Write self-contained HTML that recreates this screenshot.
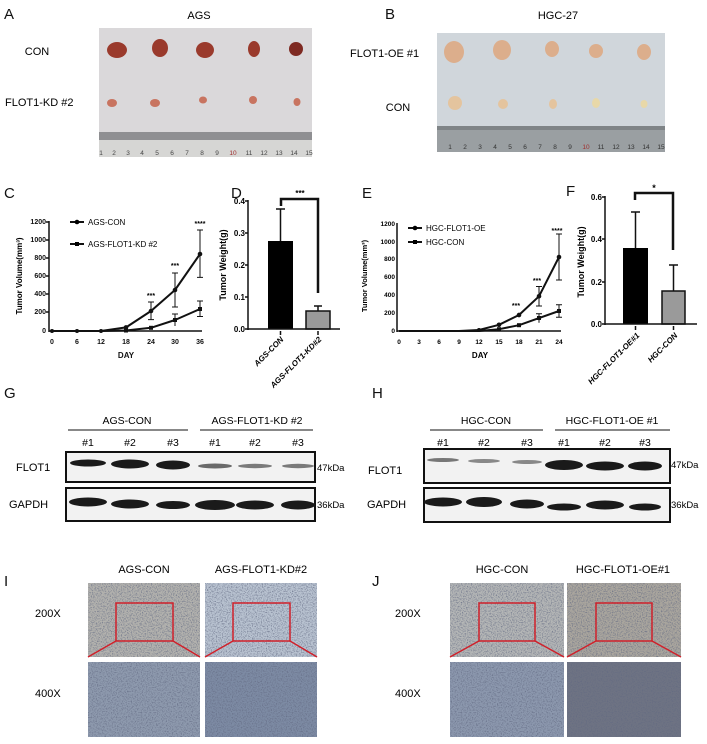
<!DOCTYPE html>
<html><head><meta charset="utf-8"><style>
html,body{margin:0;padding:0;background:#fff;}
svg{display:block;font-family:"Liberation Sans",Arial,sans-serif;}
</style></head><body>
<svg width="707" height="744" viewBox="0 0 707 744" xmlns="http://www.w3.org/2000/svg">
<defs>
<filter id="grain" x="0" y="0" width="100%" height="100%">
<feTurbulence type="fractalNoise" baseFrequency="0.8" numOctaves="2" seed="3" result="t"/>
<feColorMatrix in="t" type="matrix" values="0 0 0 0 0.12  0 0 0 0 0.14  0 0 0 0 0.22  0 0 0 -2.2 1.2" result="c"/>
<feComposite in="c" in2="SourceGraphic" operator="in"/>
</filter>
</defs>
<!-- Panel labels -->
<g font-size="15" fill="#111">
<text x="4" y="19">A</text><text x="385" y="19">B</text>
<text x="4" y="198">C</text><text x="231" y="198">D</text>
<text x="362" y="198">E</text><text x="566" y="196">F</text>
<text x="4" y="398">G</text><text x="372" y="398">H</text>
<text x="4" y="586">I</text><text x="372" y="586">J</text>
</g>
<!-- A photo -->
<text x="199" y="19" font-size="11" text-anchor="middle">AGS</text>
<text x="37" y="55" font-size="11" text-anchor="middle">CON</text>
<text x="5" y="106" font-size="11">FLOT1-KD #2</text>
<rect x="99" y="28" width="213" height="104" fill="#dad8da"/>
<rect x="99" y="132" width="213" height="8" fill="#8f8f92"/>
<rect x="99" y="140" width="213" height="17" fill="#d6d6d4"/>
<g font-size="6.5" fill="#444" text-anchor="middle">
<text x="101" y="155">1</text><text x="114" y="155">2</text><text x="128" y="155">3</text><text x="142" y="155">4</text><text x="157" y="155">5</text><text x="172" y="155">6</text><text x="187" y="155">7</text><text x="202" y="155">8</text><text x="217" y="155">9</text><text x="233" y="155" fill="#a03030">10</text><text x="249" y="155">11</text><text x="264" y="155">12</text><text x="279" y="155">13</text><text x="294" y="155">14</text><text x="309" y="155">15</text>
</g>
<g fill="#9a3a2c">
<ellipse cx="117" cy="50" rx="10" ry="8"/><ellipse cx="160" cy="48" rx="8" ry="9"/><ellipse cx="205" cy="50" rx="9" ry="8"/><ellipse cx="254" cy="49" rx="6" ry="8"/><ellipse cx="296" cy="49" rx="7" ry="7" fill="#7e2a22"/>
</g>
<g fill="#c87460">
<ellipse cx="112" cy="103" rx="5" ry="4"/><ellipse cx="155" cy="103" rx="5" ry="4"/><ellipse cx="203" cy="100" rx="4" ry="3.5"/><ellipse cx="253" cy="100" rx="4" ry="4"/><ellipse cx="297" cy="102" rx="3.5" ry="4"/>
</g>
<!-- B photo -->
<text x="558" y="19" font-size="11" text-anchor="middle">HGC-27</text>
<text x="350" y="57" font-size="11">FLOT1-OE #1</text>
<text x="398" y="111" font-size="11" text-anchor="middle">CON</text>
<rect x="437" y="33" width="228" height="93" fill="#d0d6db"/>
<rect x="437" y="126" width="228" height="26" fill="#9a9fa2"/>
<rect x="437" y="126" width="228" height="4" fill="#7f8487"/>
<g font-size="6.5" fill="#333" text-anchor="middle">
<text x="450" y="149">1</text><text x="465" y="149">2</text><text x="480" y="149">3</text><text x="495" y="149">4</text><text x="510" y="149">5</text><text x="525" y="149">6</text><text x="540" y="149">7</text><text x="555" y="149">8</text><text x="570" y="149">9</text><text x="586" y="149" fill="#a03030">10</text><text x="601" y="149">11</text><text x="616" y="149">12</text><text x="631" y="149">13</text><text x="646" y="149">14</text><text x="661" y="149">15</text>
</g>
<g fill="#dcae8c">
<ellipse cx="454" cy="52" rx="10" ry="11"/><ellipse cx="502" cy="50" rx="9" ry="10"/><ellipse cx="552" cy="49" rx="7" ry="8"/><ellipse cx="596" cy="51" rx="7" ry="7"/><ellipse cx="644" cy="52" rx="7" ry="8"/>
</g>
<g fill="#e4c49e">
<ellipse cx="455" cy="103" rx="7" ry="7"/><ellipse cx="503" cy="104" rx="5" ry="5"/><ellipse cx="553" cy="104" rx="4" ry="5"/><ellipse cx="596" cy="103" rx="4" ry="5" fill="#e8d8a8"/><ellipse cx="644" cy="104" rx="3.5" ry="4" fill="#e8d8a8"/>
</g>

<!-- C chart -->
<g font-size="7" font-weight="bold" text-anchor="end" fill="#111">
<text x="46" y="224">1200</text><text x="46" y="242">1000</text><text x="46" y="260">800</text><text x="46" y="278">600</text><text x="46" y="296">400</text><text x="46" y="314">200</text><text x="46" y="333">0</text>
</g>
<g stroke="#111" stroke-width="1.5" fill="none">
<line x1="49" y1="221" x2="49" y2="332"/><line x1="49" y1="331" x2="202" y2="331"/>
<path d="M46 222h3M46 240h3M46 258h3M46 276h3M46 294h3M46 312h3"/>
</g>
<g font-size="7" font-weight="bold" text-anchor="middle" fill="#111">
<text x="52" y="344">0</text><text x="77" y="344">6</text><text x="101" y="344">12</text><text x="126" y="344">18</text><text x="151" y="344">24</text><text x="175" y="344">30</text><text x="200" y="344">36</text>
<text x="126" y="358" font-size="8">DAY</text>
</g>
<text transform="translate(22,276) rotate(-90)" font-size="8" font-weight="bold" text-anchor="middle">Tumor Volume(mm³)</text>
<g stroke="#111" stroke-width="2" fill="none" stroke-linejoin="round">
<polyline points="52,331 77,331 101,331 126,327.4 151,311 175,290 200,254"/>
<polyline points="52,331 77,331 101,331 126,330.5 151,327.8 175,320 200,309"/>
</g>
<g stroke="#111" stroke-width="1" fill="none">
<path d="M151 302v17.6M148 302h6M148 319.6h6M175 273v34M172 273h6M172 307h6M200 230v47.4M197 230h6M197 277.4h6M175 314v12M172 314h6M200 301v15.5M197 301h6M197 316.5h6"/>
</g>
<g fill="#111">
<circle cx="126" cy="327.4" r="2.3"/><circle cx="151" cy="311" r="2.3"/><circle cx="175" cy="290" r="2.3"/><circle cx="200" cy="254" r="2.3"/>
<rect x="124" y="328.5" width="4" height="4"/><rect x="149" y="325.8" width="4" height="4"/><rect x="173" y="318" width="4" height="4"/><rect x="198" y="307" width="4" height="4"/>
<circle cx="52" cy="331" r="2"/><circle cx="77" cy="331" r="2"/><circle cx="101" cy="331" r="2"/>
</g>
<g font-size="7" font-weight="bold" text-anchor="middle"><text x="151" y="298">***</text><text x="175" y="268">***</text><text x="200" y="226">****</text></g>
<line x1="70" y1="222" x2="84" y2="222" stroke="#111" stroke-width="2"/><circle cx="77" cy="222" r="2.3"/>
<line x1="70" y1="244" x2="84" y2="244" stroke="#111" stroke-width="2"/><rect x="75" y="242" width="4" height="4"/>
<text x="88" y="225" font-size="8">AGS-CON</text><text x="88" y="247" font-size="8">AGS-FLOT1-KD #2</text>

<!-- D chart -->
<g font-size="8" font-weight="bold" text-anchor="end">
<text x="245" y="204">0.4</text><text x="245" y="236">0.3</text><text x="245" y="268">0.2</text><text x="245" y="300">0.1</text><text x="245" y="332">0.0</text>
</g>
<text transform="translate(226,265) rotate(-90)" font-size="9" font-weight="bold" text-anchor="middle">Tumor Weight(g)</text>
<rect x="268" y="241" width="25" height="88" fill="#000"/>
<rect x="306" y="311" width="24" height="18" fill="#9a9a9a" stroke="#111" stroke-width="1.5"/>
<g stroke="#111" stroke-width="1.5" fill="none">
<line x1="248" y1="200" x2="248" y2="330"/><line x1="248" y1="329" x2="340" y2="329"/>
<path d="M245 201h3M245 233h3M245 265h3M245 297h3M245 329h3"/>
<path d="M280.5 241V209M276 209h9M318 311v-5M314 306h8M280.5 331v4M318 331v4"/>
<path d="M281 206V199H318V293" stroke-width="2.5"/>
</g>
<text x="300" y="196" font-size="8" font-weight="bold" text-anchor="middle">***</text>
<g font-size="8" font-weight="bold" font-style="italic" text-anchor="end">
<text transform="translate(284,340) rotate(-45)">AGS-CON</text>
<text transform="translate(322,340) rotate(-45)">AGS-FLOT1-KD#2</text>
</g>

<!-- E chart -->
<g font-size="6.5" font-weight="bold" text-anchor="end">
<text x="395" y="226">1200</text><text x="395" y="244">1000</text><text x="395" y="261">800</text><text x="395" y="279">600</text><text x="395" y="297">400</text><text x="395" y="315">200</text><text x="395" y="333">0</text>
</g>
<g stroke="#111" stroke-width="1.5" fill="none">
<line x1="397" y1="223" x2="397" y2="332"/><line x1="397" y1="331" x2="561" y2="331"/>
</g>
<g font-size="6.5" font-weight="bold" text-anchor="middle">
<text x="399" y="344">0</text><text x="419" y="344">3</text><text x="439" y="344">6</text><text x="459" y="344">9</text><text x="479" y="344">12</text><text x="499" y="344">15</text><text x="519" y="344">18</text><text x="539" y="344">21</text><text x="559" y="344">24</text>
<text x="480" y="358" font-size="8">DAY</text>
</g>
<text transform="translate(367,276) rotate(-90)" font-size="7.5" font-weight="bold" text-anchor="middle">Tumor Volume(mm³)</text>
<g stroke="#111" stroke-width="2" fill="none" stroke-linejoin="round">
<polyline points="399,331 459,331 479,330 499,324.8 519,315 539,296.3 559,257"/>
<polyline points="399,331 479,331 499,329.2 519,325.2 539,318.1 559,311"/>
</g>
<g stroke="#111" stroke-width="1" fill="none">
<path d="M519 312.8v4.4M539 286.5v19.6M536 286.5h6M536 306h6M559 234v46M556 234h6M556 280h6M539 313.7v9M536 313.7h6M559 304.8v12.4M556 304.8h6M556 317.2h6"/>
</g>
<g fill="#111">
<circle cx="499" cy="324.8" r="2.3"/><circle cx="519" cy="315" r="2.3"/><circle cx="539" cy="296.3" r="2.3"/><circle cx="559" cy="257" r="2.3"/><circle cx="479" cy="330" r="2"/>
<rect x="497" y="327.2" width="4" height="4"/><rect x="517" y="323.2" width="4" height="4"/><rect x="537" y="316" width="4" height="4"/><rect x="557" y="309" width="4" height="4"/>
</g>
<g font-size="7" font-weight="bold" text-anchor="middle"><text x="516" y="308">***</text><text x="537" y="283">***</text><text x="557" y="233">****</text></g>
<line x1="408" y1="228" x2="422" y2="228" stroke="#111" stroke-width="2"/><circle cx="415" cy="228" r="2.3"/>
<line x1="408" y1="242" x2="422" y2="242" stroke="#111" stroke-width="2"/><rect x="413" y="240" width="4" height="4"/>
<text x="426" y="231" font-size="8">HGC-FLOT1-OE</text><text x="426" y="245" font-size="8">HGC-CON</text>

<!-- F chart -->
<g font-size="8" font-weight="bold" text-anchor="end">
<text x="602" y="200">0.6</text><text x="602" y="242">0.4</text><text x="602" y="285">0.2</text><text x="602" y="327">0.0</text>
</g>
<text transform="translate(584,262) rotate(-90)" font-size="9" font-weight="bold" text-anchor="middle">Tumor Weight(g)</text>
<rect x="623" y="248" width="25" height="76" fill="#000"/>
<rect x="662" y="291" width="23" height="33" fill="#9a9a9a" stroke="#111" stroke-width="1.5"/>
<g stroke="#111" stroke-width="1.5" fill="none">
<line x1="605" y1="196" x2="605" y2="325"/><line x1="605" y1="324" x2="697" y2="324"/>
<path d="M602 197h3M602 239h3M602 282h3M602 324h3"/>
<path d="M635.5 248V212M631 212h9M673.5 291v-26M669 265h9M635.5 326v4M673.5 326v4"/>
<path d="M635 200V193H673V250" stroke-width="2.5"/>
</g>
<text x="654" y="191" font-size="9" font-weight="bold" text-anchor="middle">*</text>
<g font-size="8" font-weight="bold" font-style="italic" text-anchor="end">
<text transform="translate(640,336) rotate(-45)">HGC-FLOT1-OE#1</text>
<text transform="translate(678,336) rotate(-45)">HGC-CON</text>
</g>

<!-- G blot -->
<g font-size="10.5" text-anchor="middle">
<text x="127" y="424">AGS-CON</text><text x="257" y="424">AGS-FLOT1-KD #2</text>
<text x="88" y="446">#1</text><text x="130" y="446">#2</text><text x="173" y="446">#3</text><text x="215" y="446">#1</text><text x="255" y="446">#2</text><text x="298" y="446">#3</text>
</g>
<g stroke="#111" stroke-width="1"><line x1="68" y1="430" x2="188" y2="430"/><line x1="200" y1="430" x2="313" y2="430"/></g>
<text x="16" y="471" font-size="11">FLOT1</text><text x="9" y="508" font-size="11">GAPDH</text>
<text x="317" y="471" font-size="9.5">47kDa</text><text x="317" y="508" font-size="9.5">36kDa</text>
<rect x="66" y="452" width="249" height="30" fill="#f2f2f2" stroke="#111" stroke-width="2"/>
<rect x="66" y="488" width="249" height="33" fill="#f2f2f2" stroke="#111" stroke-width="2"/>
<g fill="#1a1a1a">
<ellipse cx="88" cy="463" rx="18" ry="3.5"/><ellipse cx="130" cy="464" rx="19" ry="4.5"/><ellipse cx="173" cy="465" rx="17" ry="4.5"/>
<ellipse cx="215" cy="466" rx="17" ry="2.5" fill="#6a6a6a"/><ellipse cx="255" cy="466" rx="17" ry="2.2" fill="#7a7a7a"/><ellipse cx="298" cy="466" rx="16" ry="2.2" fill="#7a7a7a"/>
<ellipse cx="88" cy="502" rx="19" ry="4.5"/><ellipse cx="130" cy="504" rx="19" ry="4.5"/><ellipse cx="173" cy="505" rx="17" ry="4"/>
<ellipse cx="215" cy="505" rx="20" ry="5"/><ellipse cx="255" cy="505" rx="19" ry="4.5"/><ellipse cx="298" cy="505" rx="17" ry="4.5"/>
</g>

<!-- H blot -->
<g font-size="10.5" text-anchor="middle">
<text x="486" y="424">HGC-CON</text><text x="612" y="424">HGC-FLOT1-OE #1</text>
<text x="443" y="446">#1</text><text x="484" y="446">#2</text><text x="527" y="446">#3</text><text x="564" y="446">#1</text><text x="605" y="446">#2</text><text x="645" y="446">#3</text>
</g>
<g stroke="#111" stroke-width="1"><line x1="430" y1="430" x2="543" y2="430"/><line x1="555" y1="430" x2="670" y2="430"/></g>
<text x="368" y="474" font-size="11">FLOT1</text><text x="367" y="508" font-size="11">GAPDH</text>
<text x="671" y="468" font-size="9.5">47kDa</text><text x="671" y="508" font-size="9.5">36kDa</text>
<rect x="424" y="449" width="246" height="34" fill="#f2f2f2" stroke="#111" stroke-width="2"/>
<rect x="424" y="488" width="246" height="34" fill="#f2f2f2" stroke="#111" stroke-width="2"/>
<g fill="#1a1a1a">
<ellipse cx="443" cy="460" rx="16" ry="2" fill="#777"/><ellipse cx="484" cy="461" rx="16" ry="2" fill="#888"/><ellipse cx="527" cy="462" rx="15" ry="2" fill="#888"/>
<ellipse cx="564" cy="465" rx="19" ry="5"/><ellipse cx="605" cy="466" rx="19" ry="4.5"/><ellipse cx="645" cy="466" rx="17" ry="4.5"/>
<ellipse cx="443" cy="502" rx="19" ry="4.5"/><ellipse cx="484" cy="502" rx="18" ry="5"/><ellipse cx="527" cy="504" rx="17" ry="4.5"/>
<ellipse cx="564" cy="507" rx="17" ry="3.5"/><ellipse cx="605" cy="505" rx="19" ry="4.5"/><ellipse cx="645" cy="507" rx="16" ry="3.5"/>
</g>

<!-- I/J IHC -->
<g font-size="11" text-anchor="middle">
<text x="144" y="573">AGS-CON</text><text x="261" y="573">AGS-FLOT1-KD#2</text>
<text x="502" y="573">HGC-CON</text><text x="623" y="573">HGC-FLOT1-OE#1</text>
</g>
<g font-size="11"><text x="35" y="617">200X</text><text x="35" y="697">400X</text><text x="395" y="617">200X</text><text x="395" y="697">400X</text></g>
<g>
<rect x="88" y="583" width="112" height="74" fill="#b3b2ae"/>
<rect x="205" y="583" width="112" height="74" fill="#b9c3d1"/>
<rect x="88" y="662" width="112" height="75" fill="#8e9aae"/>
<rect x="205" y="662" width="112" height="75" fill="#7d8ba4"/>
<rect x="450" y="583" width="114" height="74" fill="#b4b6b6"/>
<rect x="567" y="583" width="114" height="74" fill="#aaa69e"/>
<rect x="450" y="662" width="114" height="75" fill="#8c98ae"/>
<rect x="567" y="662" width="114" height="75" fill="#6e7383"/>
</g>
<g filter="url(#grain)" fill="#000">
<rect x="88" y="583" width="112" height="74"/><rect x="205" y="583" width="112" height="74"/>
<rect x="88" y="662" width="112" height="75"/><rect x="205" y="662" width="112" height="75"/>
<rect x="450" y="583" width="114" height="74"/><rect x="567" y="583" width="114" height="74"/>
<rect x="450" y="662" width="114" height="75"/><rect x="567" y="662" width="114" height="75"/>
</g>
<g stroke="#d0202a" stroke-width="1.5" fill="none">
<rect x="116" y="603" width="57" height="38"/><path d="M116 641L88 657M173 641L200 657"/>
<rect x="233" y="603" width="57" height="38"/><path d="M233 641L205 657M290 641L317 657"/>
<rect x="479" y="603" width="56" height="38"/><path d="M479 641L450 657M535 641L564 657"/>
<rect x="596" y="603" width="56" height="38"/><path d="M596 641L567 657M652 641L681 657"/>
</g>
</svg>
</body></html>
